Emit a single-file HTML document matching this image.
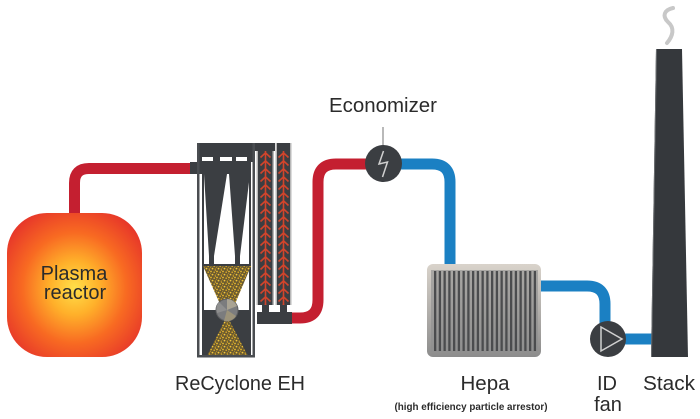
<!DOCTYPE html>
<html>
<head>
<meta charset="utf-8">
<style>
  html,body{margin:0;padding:0;background:#ffffff;}
  svg{display:block;}
  text{font-family:"Liberation Sans",Arial,sans-serif;fill:#2b2b2b;}
</style>
</head>
<body>
<svg width="700" height="419" viewBox="0 0 700 419" xmlns="http://www.w3.org/2000/svg">
  <defs>
    <radialGradient id="fire" cx="50%" cy="52%" r="62%">
      <stop offset="0" stop-color="#ffe04a"/>
      <stop offset="0.3" stop-color="#ffb02a"/>
      <stop offset="0.62" stop-color="#f86a22"/>
      <stop offset="1" stop-color="#e5322a"/>
    </radialGradient>
    <pattern id="sand" patternUnits="userSpaceOnUse" width="6" height="6">
      <rect width="6" height="6" fill="#6a5a30"/>
      <circle cx="1" cy="1.5" r="0.9" fill="#e9b92e"/>
      <circle cx="4.2" cy="2.2" r="0.8" fill="#dcab28"/>
      <circle cx="2.5" cy="4.6" r="0.9" fill="#f2c53a"/>
      <circle cx="5.3" cy="5.2" r="0.7" fill="#d0a024"/>
      <circle cx="5.3" cy="0.4" r="0.5" fill="#e9b92e"/>
      <circle cx="0.4" cy="3.6" r="0.5" fill="#c99a22"/>
    </pattern>
    <pattern id="chev1" patternUnits="userSpaceOnUse" x="257" y="151" width="17" height="8">
      <path d="M3.5 6.5 L8.5 1.8 L13.5 6.5 M8.5 0 V8" stroke="#d2442b" stroke-width="1.6" fill="none"/>
    </pattern>
    <pattern id="chev2" patternUnits="userSpaceOnUse" x="276" y="151" width="15" height="8">
      <path d="M2.5 6.5 L7.5 1.8 L12.5 6.5 M7.5 0 V8" stroke="#d2442b" stroke-width="1.6" fill="none"/>
    </pattern>
    <linearGradient id="hepaFrame" x1="0" y1="0" x2="0" y2="1">
      <stop offset="0" stop-color="#d9d3cb"/>
      <stop offset="0.5" stop-color="#b3b0ac"/>
      <stop offset="1" stop-color="#8c8c8c"/>
    </linearGradient>
    <linearGradient id="hepaIn" x1="0" y1="0" x2="0" y2="1">
      <stop offset="0" stop-color="#a9a7a4"/>
      <stop offset="1" stop-color="#8f8f8f"/>
    </linearGradient>
  </defs>

  <!-- Red pipes -->
  <path d="M74.5 214 V183 Q74.5 168.5 89 168.5 H192" stroke="#c41f30" stroke-width="11" fill="none"/>
  <path d="M290 318 H300 Q318 318 318 300 V182 Q318 164 336 164 H383" stroke="#c41f30" stroke-width="11" fill="none"/>

  <!-- Blue pipes -->
  <path d="M383 164 H432 Q450 164 450 182 V266" stroke="#1b80c3" stroke-width="11" fill="none"/>
  <path d="M540 286 H587 Q605 286 605 304 V325" stroke="#1b80c3" stroke-width="11" fill="none"/>
  <path d="M620 339 H654" stroke="#1b80c3" stroke-width="11" fill="none"/>

  <!-- Plasma reactor -->
  <rect x="7" y="213" width="135" height="144" rx="40" ry="40" fill="url(#fire)"/>
  <text x="74" y="280" font-size="20" text-anchor="middle">Plasma</text>
  <text x="75" y="299" font-size="20" text-anchor="middle">reactor</text>

  <!-- ReCyclone EH -->
  <rect x="197" y="143" width="58" height="214" fill="#ffffff"/>
  <rect x="197" y="143" width="78" height="8" fill="#3b3e42"/>
  <rect x="197" y="150" width="58" height="8" fill="#3b3e42"/>
  <rect x="197" y="157" width="58" height="5" fill="#3b3e42"/>
  <rect x="202" y="157" width="11" height="4" fill="#ffffff"/>
  <rect x="220" y="157" width="12" height="4" fill="#ffffff"/>
  <rect x="236" y="157" width="11" height="4" fill="#ffffff"/>
  <rect x="190" y="162" width="61" height="12" fill="#3b3e42"/>
  <!-- frame lines -->
  <rect x="197" y="143" width="2.5" height="214" fill="#4a4d51"/>
  <rect x="202" y="174" width="2" height="183" fill="#3b3e42"/>
  <rect x="249" y="174" width="2" height="183" fill="#3b3e42"/>
  <rect x="252.5" y="143" width="2.5" height="214" fill="#4a4d51"/>
  <!-- cones -->
  <polygon points="204,174 227,174 214,256 214,266 209,266 209,256" fill="#3b3e42"/>
  <polygon points="229,174 250,174 240,256 240,266 235,266 235,256" fill="#3b3e42"/>
  <rect x="203" y="264" width="48" height="2" fill="#3b3e42"/>
  <!-- hopper -->
  <polygon points="203,266 251,266 235,304 220,304" fill="url(#sand)"/>
  <!-- lower block -->
  <rect x="203" y="310" width="48" height="47" fill="#3b3e42"/>
  <polygon points="227,316 207,356 248,356" fill="url(#sand)"/>
  <rect x="197" y="355" width="58" height="2.5" fill="#4a4d51"/>
  <!-- rotary valve -->
  <circle cx="227" cy="310" r="11" fill="#7b7c7e" stroke="#5d5e60" stroke-width="1"/>
  <path d="M227 310 L227 299 A11 11 0 0 1 237 306 Z" fill="#a9a393"/>
  <path d="M227 310 L236 316 A11 11 0 0 1 224 321 Z" fill="#9c937a"/>
  <path d="M227 310 L217 313 A11 11 0 0 1 219 302 Z" fill="#8f8f8f"/>
  <!-- filter tubes -->
  <rect x="256.5" y="151" width="17.5" height="154" fill="#b8b8b8"/>
  <rect x="258" y="151" width="14.5" height="154" fill="#3b3e42"/>
  <rect x="258" y="151" width="14.5" height="154" fill="url(#chev1)"/>
  <rect x="275.5" y="143" width="16" height="162" fill="#b8b8b8"/>
  <rect x="277" y="143" width="13" height="162" fill="#3b3e42"/>
  <rect x="277" y="151" width="13" height="154" fill="url(#chev2)"/>
  <rect x="262" y="305" width="7" height="8" fill="#3b3e42"/>
  <rect x="280" y="305" width="7" height="8" fill="#3b3e42"/>
  <rect x="257" y="312" width="35" height="12" fill="#3b3e42"/>
  <text x="240" y="390" font-size="20" text-anchor="middle" textLength="130" lengthAdjust="spacingAndGlyphs">ReCyclone EH</text>

  <!-- Economizer -->
  <line x1="383" y1="127" x2="383" y2="146" stroke="#8a8a8a" stroke-width="1.2"/>
  <circle cx="383.5" cy="163.5" r="18.5" fill="#3b3e42"/>
  <polyline points="383.5,151 379,164 387.5,162 382.5,177" fill="none" stroke="#d0d0d0" stroke-width="1.5"/>
  <text x="383" y="112" font-size="20" text-anchor="middle" textLength="108" lengthAdjust="spacingAndGlyphs">Economizer</text>

  <!-- Hepa -->
  <rect x="427" y="264" width="114" height="93" rx="6" ry="6" fill="url(#hepaFrame)"/>
  <rect x="431" y="270" width="107" height="82" fill="url(#hepaIn)"/>
  <g fill="#4b4c4e">
    <rect x="434" y="271" width="2.3" height="80"/>
    <rect x="438.75" y="271" width="2.3" height="80"/>
    <rect x="443.5" y="271" width="2.3" height="80"/>
    <rect x="448.25" y="271" width="2.3" height="80"/>
    <rect x="453" y="271" width="2.3" height="80"/>
    <rect x="457.75" y="271" width="2.3" height="80"/>
    <rect x="462.5" y="271" width="2.3" height="80"/>
    <rect x="467.25" y="271" width="2.3" height="80"/>
    <rect x="472" y="271" width="2.3" height="80"/>
    <rect x="476.75" y="271" width="2.3" height="80"/>
    <rect x="481.5" y="271" width="2.3" height="80"/>
    <rect x="486.25" y="271" width="2.3" height="80"/>
    <rect x="491" y="271" width="2.3" height="80"/>
    <rect x="495.75" y="271" width="2.3" height="80"/>
    <rect x="500.5" y="271" width="2.3" height="80"/>
    <rect x="505.25" y="271" width="2.3" height="80"/>
    <rect x="510" y="271" width="2.3" height="80"/>
    <rect x="514.75" y="271" width="2.3" height="80"/>
    <rect x="519.5" y="271" width="2.3" height="80"/>
    <rect x="524.25" y="271" width="2.3" height="80"/>
    <rect x="529" y="271" width="2.3" height="80"/>
    <rect x="533.75" y="271" width="2.3" height="80"/>
  </g>
  <text x="485" y="390" font-size="20" text-anchor="middle" textLength="49" lengthAdjust="spacingAndGlyphs">Hepa</text>
  <text x="471" y="410" font-size="10.5" font-weight="bold" text-anchor="middle" textLength="153" lengthAdjust="spacingAndGlyphs">(high efficiency particle arrestor)</text>

  <!-- ID fan -->
  <circle cx="608" cy="339" r="18" fill="#3b3e42"/>
  <polygon points="601,327 601,351 622,339" fill="none" stroke="#d0d0d0" stroke-width="1.5"/>
  <text x="607" y="390" font-size="20" text-anchor="middle">ID</text>
  <text x="608" y="411" font-size="20" text-anchor="middle">fan</text>

  <!-- Stack -->
  <polygon points="656,49 682,49 688,357 651,357" fill="#35383c"/>
  <line x1="656.5" y1="49" x2="651.5" y2="357" stroke="#6a6d70" stroke-width="1"/>
  <path d="M673 8 C664 10 662 16 668 22 C675 28 673 36 667 43" fill="none" stroke="#c8c8c8" stroke-width="4" stroke-linecap="round"/>
  <text x="669" y="390" font-size="20" text-anchor="middle" textLength="52" lengthAdjust="spacingAndGlyphs">Stack</text>
</svg>
</body>
</html>
